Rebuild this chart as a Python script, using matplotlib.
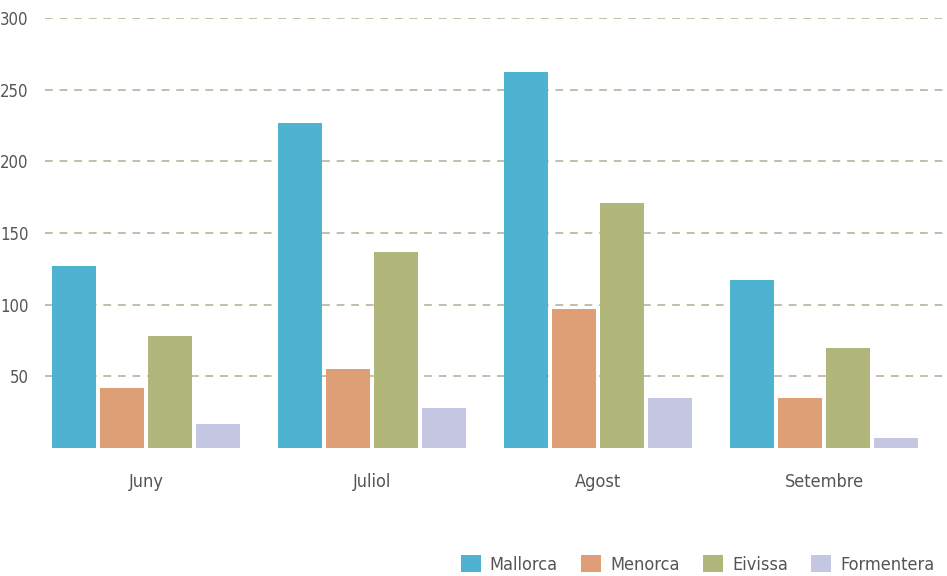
import matplotlib
matplotlib.use("Agg")
from matplotlib import pyplot as plt
import numpy as np

months = ["Juny", "Juliol", "Agost", "Setembre"]
islands = ["Mallorca", "Menorca", "Eivissa", "Formentera"]
mallorca = [127, 227, 262, 117]
menorca = [42, 55, 97, 35]
eivissa = [78, 137, 171, 70]
formentera = [17, 28, 35, 7]
colors = ["#4db3d0", "#de9f76", "#b1b67a", "#c4c6e2"]
yticks = [50, 100, 150, 200, 250, 300]

plt.rcParams['font.family'] = ['DejaVu Sans']
plt.rcParams['font.stretch'] = 'condensed'

fig = plt.figure(figsize=(9.47, 5.76), dpi=100)
ax = fig.add_axes([45/947, 128/576, 902/947, 430/576])

x = np.arange(len(months))
slot = 0.212
width = 0.195
series = [mallorca, menorca, eivissa, formentera]
for i, (name, vals) in enumerate(zip(islands, series)):
    ax.bar(x + (i - 1.5) * slot, vals, width, color=colors[i], label=name, zorder=3)

ax.set_xlim(-0.447, 3.544)
ax.set_ylim(0, 300)
ax.set_yticks(yticks)
ax.set_yticklabels([str(v) for v in yticks], fontsize=12, color="#555555")
ax.set_xticks(x)
ax.set_xticklabels(months, fontsize=13, color="#555555")
ax.tick_params(axis="both", length=0)
ax.tick_params(axis="x", pad=18)
ax.tick_params(axis="y", pad=12)
ax.yaxis.grid(True, color="#c2bea6", linestyle=(0, (4, 3.5)), linewidth=1.4, zorder=0)
for s in ax.spines.values():
    s.set_visible(False)

leg = fig.legend(loc="lower right", bbox_to_anchor=(1.004, -0.024), ncol=4, frameon=False,
                 fontsize=13, handlelength=1.1, handleheight=1.1, handletextpad=0.5,
                 columnspacing=1.3, labelcolor="#555555")

fig.savefig("out.png", dpi=100)
